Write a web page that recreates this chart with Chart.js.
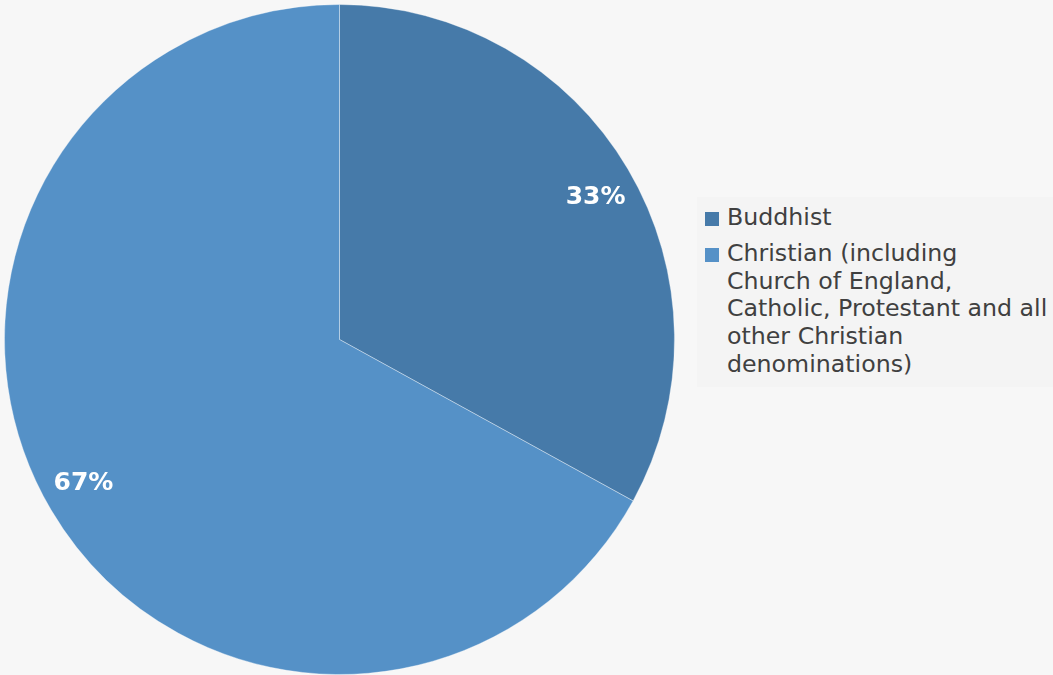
<!DOCTYPE html>
<html>
<head>
<meta charset="utf-8">
<script src="https://cdn.jsdelivr.net/npm/chart.js@4/dist/chart.umd.min.js"></script>
<style>
  html, body { margin: 0; padding: 0; background: #f7f7f7; width: 1053px; height: 675px; overflow: hidden; }
  #wrap { position: absolute; left: 0; top: 0; width: 679px; height: 679px; }
  #legend { position: absolute; left: 697px; top: 197px; width: 356px; height: 190px; background: #f4f4f4;
    font-family: "DejaVu Sans", sans-serif; font-size: 23.7px; line-height: 27.7px; color: #404040; }
  .item { position: absolute; left: 0; }
  .box { position: absolute; left: 8px; top: 8px; width: 14px; height: 14px; }
  .txt { position: absolute; left: 30px; top: 0; white-space: nowrap; }
</style>
</head>
<body>
<div id="wrap"><canvas id="religion"></canvas></div>
<div id="legend"></div>
<script>
var categories = ['Buddhist', 'Christian (including Church of England, Catholic, Protestant and all other Christian denominations)']
var legendLines = [
  ['Buddhist'],
  ['Christian (including', 'Church of England,', 'Catholic, Protestant and all', 'other Christian', 'denominations)']
]
var shares = [33, 67]
var colours = ['#467aa9', '#5591c7']

// percent labels drawn on the slices, 7/8 of the way out
var sliceLabels = {
  id: 'sliceLabels',
  afterDatasetsDraw: function (chart) {
    var ctx = chart.ctx
    var data = chart.data.datasets[0].data
    var total = data.reduce(function (a, b) { return a + b }, 0)
    ctx.save()
    ctx.font = 'bold 25px "DejaVu Sans"'
    ctx.fillStyle = '#ffffff'
    ctx.textAlign = 'center'
    ctx.textBaseline = 'middle'
    chart.getDatasetMeta(0).data.forEach(function (arc, i) {
      var p = arc.getProps(['x', 'y', 'startAngle', 'endAngle', 'outerRadius'], true)
      var mid = (p.startAngle + p.endAngle) / 2 + 0.026
      var r = p.outerRadius * 0.875
      ctx.fillText(Math.round(data[i] / total * 100) + '%', p.x + Math.cos(mid) * r, p.y + Math.sin(mid) * r + 1)
    })
    ctx.restore()
  }
}

var chart = new Chart(document.getElementById('religion').getContext('2d'), {
  type: 'pie',
  data: {
    labels: categories,
    datasets: [{
      data: shares,
      backgroundColor: colours,
      borderColor: 'rgba(255,255,255,0.35)',
      borderWidth: 1
    }]
  },
  options: {
    responsive: true,
    maintainAspectRatio: false,
    animation: false,
    radius: 335,
    layout: {padding: 0},
    plugins: {
      legend: {display: false},
      tooltip: {enabled: false}
    }
  },
  plugins: [sliceLabels]
})

// html legend built from the chart's own legend items
var legend = document.getElementById('legend')
var items = chart.options.plugins.legend.labels.generateLabels(chart)
var tops = [7, 43]
items.forEach(function (item, i) {
  var div = document.createElement('div')
  div.className = 'item'
  div.style.top = tops[i] + 'px'
  var box = document.createElement('div')
  box.className = 'box'
  box.style.background = item.fillStyle
  var txt = document.createElement('div')
  txt.className = 'txt'
  txt.innerHTML = legendLines[i].join('<br>')
  div.appendChild(box)
  div.appendChild(txt)
  legend.appendChild(div)
})
</script>
</body>
</html>
